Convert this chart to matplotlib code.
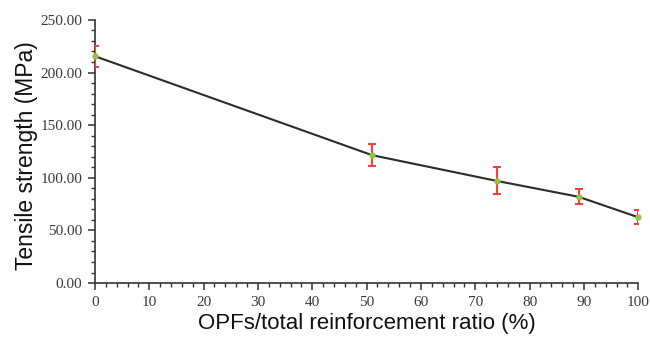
import matplotlib
matplotlib.use("Agg")
import matplotlib.pyplot as plt
from matplotlib.ticker import MultipleLocator, FormatStrFormatter

ratio = [0, 51, 74, 89, 100]
strength = [215.5, 121.5, 97.0, 82.0, 62.5]
err = [10.0, 10.7, 12.8, 7.3, 6.8]

fig = plt.figure(figsize=(6.5, 3.37), dpi=100)
ax = fig.add_axes([0.146, 0.160, 0.836, 0.781])

ax.plot(ratio, strength, color="#2b2b2b", lw=1.5, zorder=2)
ax.errorbar(ratio, strength, yerr=err, fmt="none", ecolor="#ff3b3b",
            elinewidth=1.5, capsize=3, capthick=1.5, zorder=3)
ax.plot(ratio, strength, ls="none", marker="o", ms=3.5, color="#8dc63f",
        mec="#8dc63f", zorder=4, clip_on=False)

ax.set_xlim(0, 100)
ax.set_ylim(0, 250)
ax.xaxis.set_major_locator(MultipleLocator(10))
ax.xaxis.set_minor_locator(MultipleLocator(2))
ax.yaxis.set_major_locator(MultipleLocator(50))
ax.yaxis.set_minor_locator(MultipleLocator(10))
ax.yaxis.set_major_formatter(FormatStrFormatter("%.2f"))

for s in ["top", "right"]:
    ax.spines[s].set_visible(False)
for s in ["left", "bottom"]:
    ax.spines[s].set_color("#333333")
    ax.spines[s].set_linewidth(1.2)

ax.tick_params(which="major", direction="out", length=5, width=1.1, colors="#333333",
               labelsize=11, labelcolor="#3a3a3a", pad=4)
ax.tick_params(which="minor", direction="out", length=3, width=1.0, colors="#333333")
for lab in ax.get_xticklabels() + ax.get_yticklabels():
    lab.set_family("Liberation Serif")

ax.set_xlabel("OPFs/total reinforcement ratio (%)", family="Liberation Sans",
              fontsize=16, color="#111111", labelpad=3)
ax.set_ylabel("Tensile strength (MPa)", family="Liberation Sans",
              fontsize=16.5, color="#111111", labelpad=2)
ax.yaxis.label.set_y(0.485)

fig.savefig("out.png", dpi=100)
